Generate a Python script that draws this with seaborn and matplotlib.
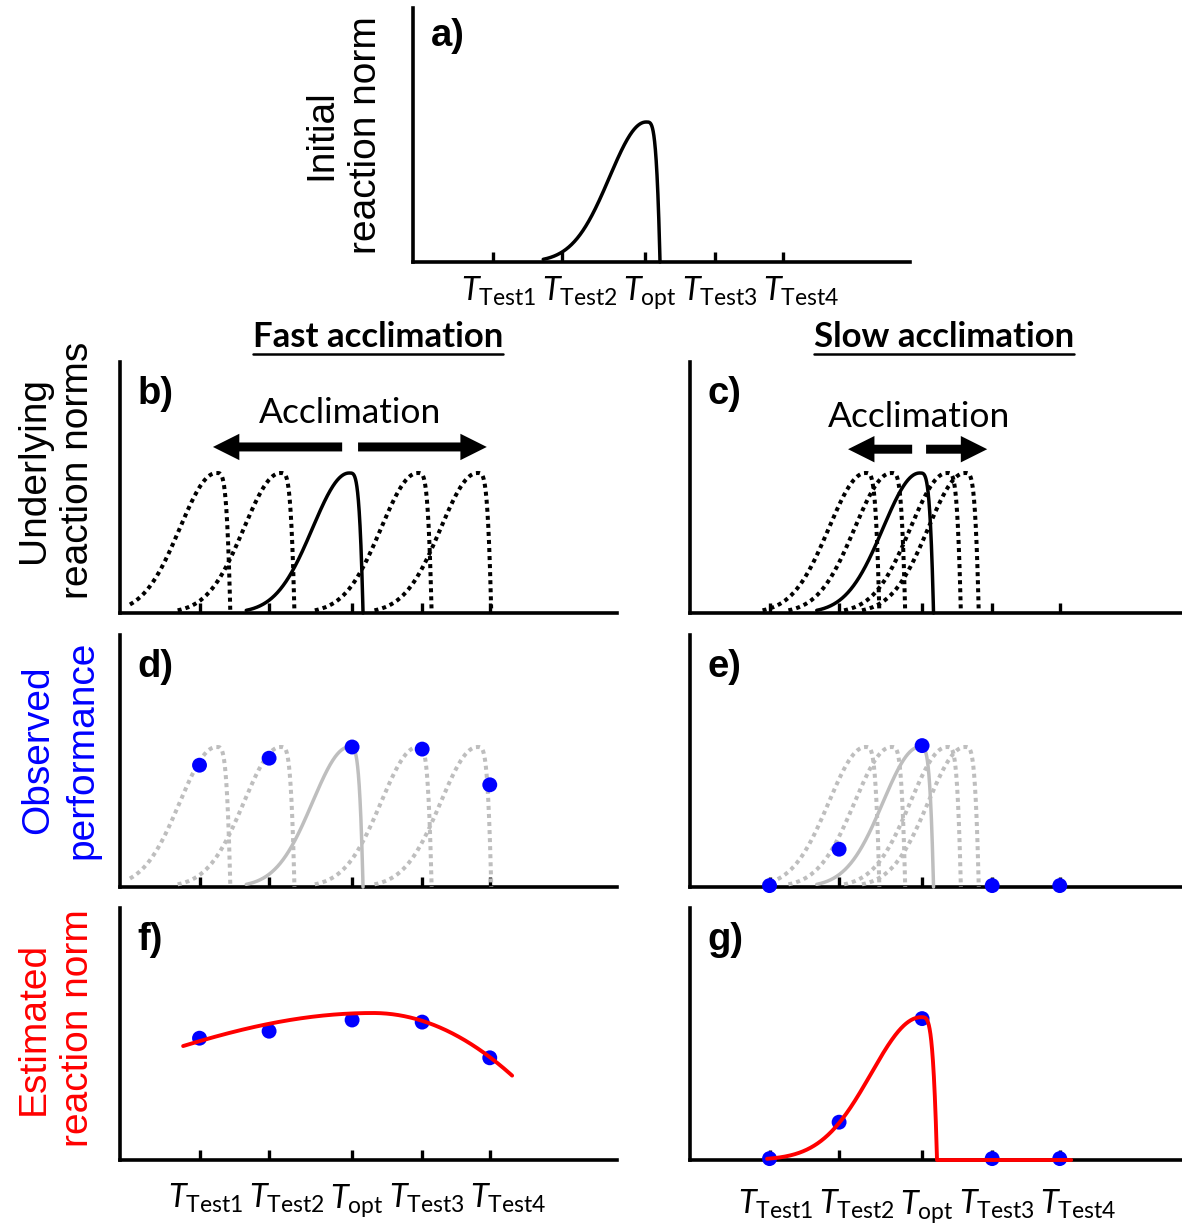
import numpy as np
import matplotlib
matplotlib.use("Agg")
import matplotlib.pyplot as plt
import seaborn as sns
from matplotlib.lines import Line2D

sns.set_theme(style="white")
plt.rcParams.update({
    "font.family": ["Liberation Sans", "DejaVu Sans"],
    "mathtext.fontset": "custom",
    "mathtext.rm": "Lato",
    "mathtext.it": "Lato:italic",
    "mathtext.bf": "Lato:bold",
    "text.color": "black",
    "xtick.color": "black",
    "axes.labelcolor": "black",
})

# ---------------- data ----------------
tick_labels = [r"$T_{\mathrm{Test1}}$", r"$T_{\mathrm{Test2}}$", r"$T_{\mathrm{opt}}$",
               r"$T_{\mathrm{Test3}}$", r"$T_{\mathrm{Test4}}$"]
tick_pos = [1.6, 3.0, 4.67, 6.08, 7.44]          # test temperatures
label_pos = [1.73, 3.35, 4.77, 6.17, 7.80]       # where the tick texts sit

initial_peak = 4.69          # optimum of the initial reaction norm (panel a)
curve_left = 1.04            # breadth below the optimum
curve_right = 0.28           # distance optimum -> critical maximum

fast_peaks = [1.94, 3.23, 4.61, 5.99, 7.19]   # optima of underlying norms, fast acclimation
slow_peaks = [3.53, 4.05, 4.62, 5.17, 5.53]   # optima of underlying norms, slow acclimation
initial_index = 2                              # the unshifted (solid) norm

fast_observed = [0.87, 0.92, 1.0, 0.985, 0.73]   # blue dots, panels d / f
slow_observed = [0.01, 0.27, 1.01, 0.01, 0.01]   # blue dots, panels e / g

fast_fit = dict(peak=5.09, height=1.05, left=7.57, right=4.29, power=2, start=1.27, end=7.89)
slow_fit = dict(peak=4.65, height=1.02, left=1.42, right=0.32, power=4, start=1.55, end=7.67)

fast_arrows = [(4.47, 1.87), (4.79, 7.38)]
slow_arrows = [(4.47, 3.18), (4.75, 5.98)]

# ---------------- helpers ----------------
def tpc(peak, height=1.0, left=curve_left, right=curve_right, power=4, start=None, end=None, n=400):
    if start is None:
        start = max(peak - 2.07, 0.2)
    xl = np.linspace(start, peak, n)
    yl = height * np.exp(-((xl - peak) / left) ** 2)
    stop = peak + right if end is None else min(end, peak + right)
    xr = np.linspace(peak, stop, n)[1:]
    yr = np.clip(height * (1 - ((xr - peak) / right) ** power), 0, None)
    x = np.r_[xl, xr]
    y = np.r_[yl, yr]
    if end is not None and end > peak + right:
        x = np.r_[x, end]
        y = np.r_[y, 0.0]
    return x, y


def line(ax, x, y, color="black", lw=2.5, ls="-", z=3):
    sns.lineplot(x=x, y=y, ax=ax, color=color, lw=lw, linestyle=ls, sort=False,
                 estimator=None, zorder=z, clip_on=False)


W, H = 1182, 1228
fig = plt.figure(figsize=(W / 100, H / 100), dpi=100)
PX = 140.0  # pixels per unit of performance


def make_ax(left, top, width=497, height=252):
    ax = fig.add_axes([left / W, 1 - (top + height) / H, width / W, height / H])
    ax.set_xlim(0, width / 49.7)
    ax.set_ylim(0, height / PX)
    ax.set_facecolor("none")
    for s in ["top", "right"]:
        ax.spines[s].set_visible(False)
    for s in ["left", "bottom"]:
        ax.spines[s].set_color("black")
        ax.spines[s].set_linewidth(2.6)
        ax.spines[s].set_zorder(2)
    ax.set_yticks([])
    ax.set_xticks(tick_pos)
    ax.tick_params(axis="x", which="major", direction="in", length=7, width=2.4,
                   color="black", bottom=True, labelbottom=False)
    return ax


def add_ticklabels(ax, pad):
    ax.set_xticks(label_pos, tick_labels, minor=True)
    ax.tick_params(axis="x", which="minor", length=0, pad=pad, labelsize=23.5,
                   bottom=True, labelbottom=True, labelcolor="black")


def letter(ax, s, x=0.035, y=0.945):
    ax.text(x, y, s, transform=ax.transAxes, fontsize=27.5, fontweight="bold",
            va="top", ha="left", color="black", family=["Liberation Sans", "DejaVu Sans"])


def ylab(x, y, s, color="black", size=28):
    fig.text(x / W, 1 - y / H, s, rotation=90, ha="center", va="center",
             fontsize=size, color=color, linespacing=1.3, multialignment="center",
             family=["Liberation Sans", "DejaVu Sans"])


dotted = (0, (1, 1))
GREY = "#BEBEBE"

# ---------------- panel a ----------------
ax_a = make_ax(413, 8, 497, 254)
x, y = tpc(initial_peak)
line(ax_a, x, y)
add_ticklabels(ax_a, 9)
letter(ax_a, "a)", 0.036, 0.96)
ylab(344, 135, "Initial\nreaction norm")

# ---------------- panels b, c ----------------
ax_b = make_ax(120, 362, 497, 251)
ax_c = make_ax(690, 362, 497, 251)
for ax, peaks in [(ax_b, fast_peaks), (ax_c, slow_peaks)]:
    for i, pk in enumerate(peaks):
        x, y = tpc(pk)
        if i == initial_index:
            line(ax, x, y, z=4)
        else:
            line(ax, x, y, lw=2.9, ls=dotted)
letter(ax_b, "b)")
letter(ax_c, "c)")

for ax, arrows, tx, ty, ay in [(ax_b, fast_arrows, 4.63, 1.357, 1.186),
                               (ax_c, slow_arrows, 4.61, 1.33, 1.17)]:
    ax.text(tx, ty, "Acclimation", ha="center", va="baseline", fontsize=25.5,
            family=["Lato", "DejaVu Sans"], color="black")
    for x0, x1 in arrows:
        ax.annotate("", xy=(x1, ay), xytext=(x0, ay),
                    arrowprops=dict(arrowstyle="simple,head_length=0.5,head_width=0.5,tail_width=0.17",
                                    mutation_scale=38, color="black", shrinkA=0, shrinkB=0, lw=0))
ylab(56, 470, "Underlying\nreaction norms")

# ---------------- panels d, e ----------------
ax_d = make_ax(120, 635, 497, 252)
ax_e = make_ax(690, 635, 497, 252)
for ax, peaks, obs in [(ax_d, fast_peaks, fast_observed), (ax_e, slow_peaks, slow_observed)]:
    for i, pk in enumerate(peaks):
        x, y = tpc(pk)
        if i == initial_index:
            line(ax, x, y, color=GREY, z=4)
        else:
            line(ax, x, y, color=GREY, lw=2.9, ls=dotted)
    sns.scatterplot(x=tick_pos, y=obs, ax=ax, color="#0000FF", s=115, edgecolor="none",
                    zorder=6, clip_on=False)
letter(ax_d, "d)")
letter(ax_e, "e)")
ylab(60, 750, "Observed\nperformance", color="#0000FF")

# ---------------- panels f, g ----------------
ax_f = make_ax(120, 908, 497, 252)
ax_g = make_ax(690, 908, 497, 252)
for ax, fit, obs, pad in [(ax_f, fast_fit, fast_observed, 16), (ax_g, slow_fit, slow_observed, 20)]:
    sns.scatterplot(x=tick_pos, y=obs, ax=ax, color="#0000FF", s=115, edgecolor="none",
                    zorder=5, clip_on=False)
    x, y = tpc(**fit)
    line(ax, x, y, color="#FF0000", lw=2.8, z=6)
    add_ticklabels(ax, pad)
letter(ax_f, "f)")
letter(ax_g, "g)")
ylab(56, 1028, "Estimated\nreaction norm", color="#FF0000")

# ---------------- column headers ----------------
fig.canvas.draw()
renderer = fig.canvas.get_renderer()
for cx, s in [(378, "Fast acclimation"), (944, "Slow acclimation")]:
    t = fig.text(cx / W, 1 - 347 / H, s, ha="center", va="baseline", fontsize=25,
                 fontweight="bold", family=["Lato", "DejaVu Sans"], color="black")
    bb = t.get_window_extent(renderer)
    uy = 1 - 354 / H
    fig.add_artist(Line2D([bb.x0 / W, bb.x1 / W], [uy, uy], transform=fig.transFigure,
                          color="black", lw=1.8))

for ax in fig.axes:
    leg = ax.get_legend()
    if leg is not None:
        leg.remove()

fig.savefig("out.png", dpi=100)
